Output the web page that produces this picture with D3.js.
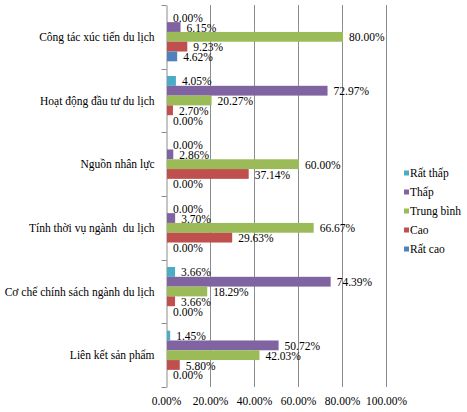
<!DOCTYPE html>
<html>
<head>
<meta charset="utf-8">
<script src="https://cdn.jsdelivr.net/npm/d3@7"></script>
<style>
    body { margin: 0; background: #fff; }
    svg { display: block; }
</style>
</head>
<body>
<svg id="chart" width="467" height="412"></svg>
<script>
// Categories from top to bottom
var categories = [
    'Công tác xúc tiến du lịch',
    'Hoạt động đầu tư du lịch',
    'Nguồn nhân lực',
    'Tính thời vụ ngành  du lịch',
    'Cơ chế chính sách ngành du lịch',
    'Liên kết sản phẩm'
];

var seriesNames = ['Rất thấp', 'Thấp', 'Trung bình', 'Cao', 'Rất cao'];
var seriesColors = ['#4bacc6', '#8064a2', '#9bbb59', '#c0504d', '#4f81bd'];

// Percent values, one array per series, in category order
var ratThap = [0.00, 4.05, 0.00, 0.00, 3.66, 1.45];
var thap = [6.15, 72.97, 2.86, 3.70, 74.39, 50.72];
var trungBinh = [80.00, 20.27, 60.00, 66.67, 18.29, 42.03];
var cao = [9.23, 2.70, 37.14, 29.63, 3.66, 5.80];
var ratCao = [4.62, 0.00, 0.00, 0.00, 0.00, 0.00];

var xTicks = [0, 20, 40, 60, 80, 100];

var PLOT = { left: 166, right: 386, top: 5, bottom: 387 },
    FONT = 'Liberation Serif',
    FONT_SIZE = 11.5,
    LABEL_OFFSET = 7,
    GRID_COLOR = '#8c8c8c';

var seriesValues = [ratThap, thap, trungBinh, cao, ratCao];

// Flatten into rows that d3 can bind to
var rows = categories.map(function(c, i) {
    return {
        category: c,
        values: seriesNames.map(function(s, j) {
            return { series: s, value: seriesValues[j][i], color: seriesColors[j] };
        })
    };
});

var svg = d3.select('#chart');

var x = d3.scaleLinear()
    .domain([0, 100])
    .range([PLOT.left, PLOT.right]);

var y0 = d3.scaleBand()
    .domain(categories)
    .range([PLOT.top, PLOT.bottom]);

// Excel style gap width 150%
var y1 = d3.scaleBand()
    .domain(seriesNames)
    .range([0, y0.bandwidth()])
    .paddingOuter(0.75);

var fmt = function(v) { return d3.format('.2f')(v) + '%'; };

// Vertical gridlines
svg.append('g')
    .selectAll('line')
    .data(xTicks.slice(1))
    .enter()
    .append('line')
    .attr('x1', function(d) { return x(d) + 0.5; })
    .attr('x2', function(d) { return x(d) + 0.5; })
    .attr('y1', PLOT.top)
    .attr('y2', PLOT.bottom)
    .attr('stroke', GRID_COLOR)
    .attr('stroke-width', 1);

// x axis labels only, no line
var xAxis = svg.append('g')
    .attr('transform', 'translate(0,' + PLOT.bottom + ')')
    .call(d3.axisBottom(x).tickValues(xTicks).tickFormat(function(d) { return d.toFixed(2) + '%'; }).tickSize(0).tickPadding(10));
xAxis.select('.domain').remove();

// Left axis with outer ticks at band edges
var yAxis = svg.append('g')
    .attr('transform', 'translate(' + (PLOT.left + 0.5) + ',0)')
    .call(d3.axisLeft(y0).tickSize(0).tickPadding(12));
yAxis.select('.domain').attr('stroke', GRID_COLOR);
yAxis.selectAll('text')
    .attr('dy', '0.35em')
    .style('white-space', 'pre');

var edges = categories.map(function(c) { return y0(c); }).concat([PLOT.bottom]);
yAxis.selectAll('line.edge')
    .data(edges)
    .enter()
    .append('line')
    .classed('edge', true)
    .attr('x1', -5)
    .attr('x2', 0)
    .attr('y1', function(d) { return Math.round(d) + 0.5; })
    .attr('y2', function(d) { return Math.round(d) + 0.5; })
    .attr('stroke', GRID_COLOR);

// Bars and data labels
var groups = svg.append('g')
    .selectAll('g')
    .data(rows)
    .enter()
    .append('g')
    .attr('transform', function(d) { return 'translate(0,' + y0(d.category) + ')'; });

groups.selectAll('rect')
    .data(function(d) { return d.values; })
    .enter()
    .append('rect')
    .attr('x', x(0) + 1)
    .attr('y', function(d) { return y1(d.series); })
    .attr('width', function(d) { return Math.max(0, x(d.value) - x(0)); })
    .attr('height', y1.bandwidth())
    .attr('fill', function(d) { return d.color; });

groups.selectAll('text')
    .data(function(d) { return d.values; })
    .enter()
    .append('text')
    .attr('x', function(d) { return x(d.value) + LABEL_OFFSET; })
    .attr('y', function(d) { return y1(d.series) + y1.bandwidth() / 2; })
    .attr('dy', '0.4em')
    .text(function(d) { return fmt(d.value); });

// Legend
var legend = svg.append('g')
    .attr('transform', 'translate(404,173)');

var items = legend.selectAll('g')
    .data(seriesNames)
    .enter()
    .append('g')
    .attr('transform', function(d, i) { return 'translate(0,' + i * 19 + ')'; });

items.append('rect')
    .attr('x', 0)
    .attr('y', -2.5)
    .attr('width', 5)
    .attr('height', 5)
    .attr('fill', function(d, i) { return seriesColors[i]; });

items.append('text')
    .attr('x', 6)
    .attr('y', 0)
    .attr('dy', '0.35em')
    .text(function(d) { return d; });

// One font for every text
svg.selectAll('g').attr('font-family', null).attr('font-size', null);
svg.selectAll('text')
    .style('font-family', FONT)
    .style('font-size', FONT_SIZE + 'px')
    .style('fill', '#000');
</script>
</body>
</html>
